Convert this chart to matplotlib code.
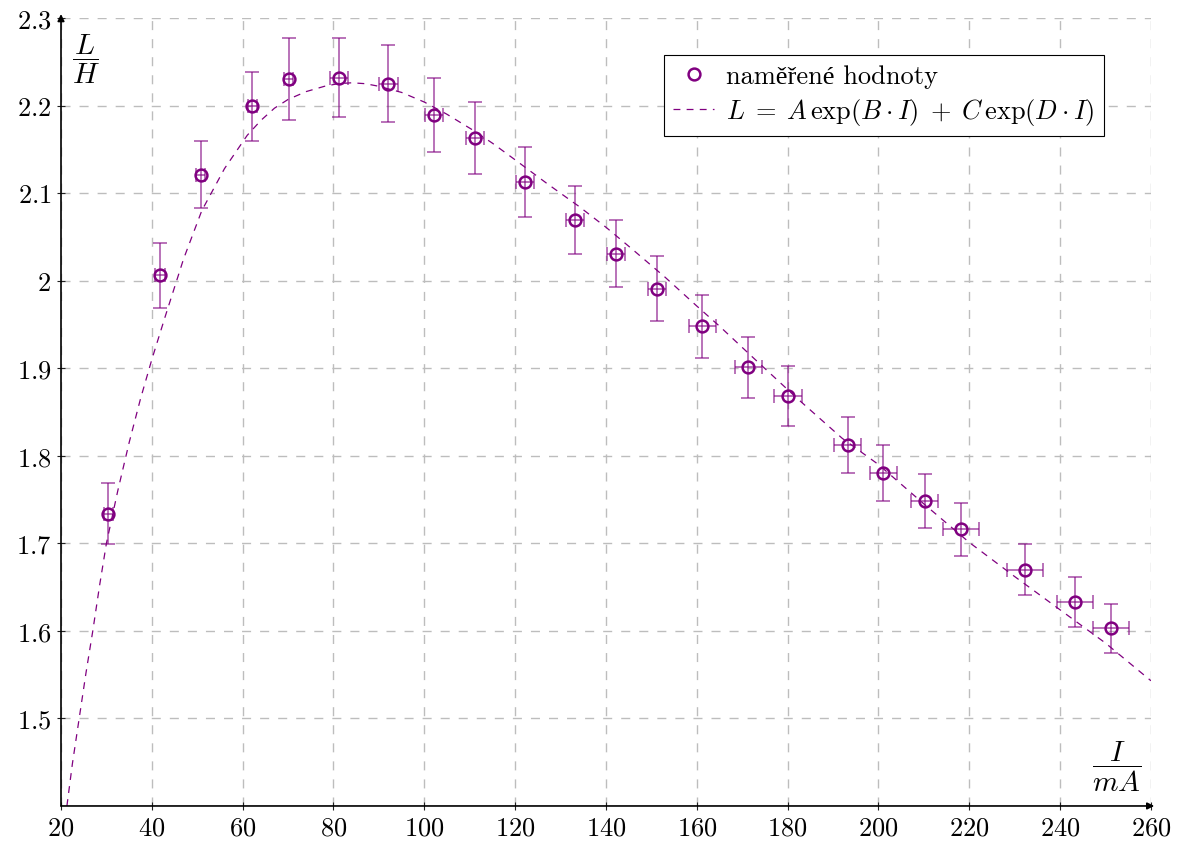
import matplotlib
matplotlib.use("Agg")
import matplotlib.pyplot as plt

plt.rcParams['mathtext.fontset'] = 'cm'
plt.rcParams['font.family'] = ['cmr10', 'Liberation Serif']
plt.rcParams['axes.formatter.use_mathtext'] = True

# measured points
current = [30.4, 41.8, 50.8, 62.1, 70.1, 81.2, 92.1, 102.2, 111.2, 122.2, 133.1, 142.2,
           151.2, 161.2, 171.3, 180.1, 193.2, 201.1, 210.2, 218.2, 232.2, 243.2, 251.2]
inductance = [1.734, 2.006, 2.121, 2.199, 2.230, 2.232, 2.225, 2.189, 2.163, 2.113, 2.069, 2.031,
              1.991, 1.948, 1.901, 1.868, 1.812, 1.780, 1.748, 1.716, 1.670, 1.633, 1.603]
current_err = [1, 1, 1, 1, 1, 2, 2, 2, 2, 2, 2, 2,
               2, 3, 3, 3, 3, 3, 3, 4, 4, 4, 4]
inductance_err = [0.035, 0.037, 0.038, 0.039, 0.047, 0.045, 0.044, 0.042, 0.041, 0.040, 0.039, 0.038,
                  0.037, 0.036, 0.035, 0.034, 0.032, 0.032, 0.031, 0.030, 0.029, 0.029, 0.028]

# fitted curve
fit_i = [21.3, 22.5, 24, 25.5, 27, 28.5, 30, 32.5, 35, 37.5, 40, 43, 47, 51, 56, 61, 64, 67,
         70, 74, 78, 81, 84, 87, 90, 95, 100, 105, 111, 115, 120, 127, 134, 140, 146, 153,
         160, 165, 172, 182, 192, 200, 210, 220, 230, 240, 250, 260]
fit_l = [1.400, 1.448, 1.500, 1.552, 1.600, 1.652, 1.700, 1.760, 1.815, 1.865, 1.910, 1.960,
         2.025, 2.080, 2.128, 2.166, 2.183, 2.197, 2.207, 2.216, 2.222, 2.225, 2.226, 2.225,
         2.222, 2.215, 2.204, 2.190, 2.171, 2.157, 2.138, 2.111, 2.085, 2.061, 2.035, 2.004,
         1.971, 1.948, 1.914, 1.866, 1.820, 1.790, 1.745, 1.701, 1.662, 1.624, 1.586, 1.543]

x_ticks = [20, 40, 60, 80, 100, 120, 140, 160, 180, 200, 220, 240, 260]
y_ticks = [1.5, 1.6, 1.7, 1.8, 1.9, 2.0, 2.1, 2.2, 2.3]
y_labels = ["1.5", "1.6", "1.7", "1.8", "1.9", "2", "2.1", "2.2", "2.3"]

purple = "#800080"

fig = plt.figure(figsize=(11.8, 8.45), dpi=100)
ax = fig.add_axes([0.0517, 0.045, 0.9237, 0.9325])

ax.plot(fit_i, fit_l, color=purple, lw=0.9, dashes=(5.5, 5),
        label=r"$L\;=\;A\,\exp(B\cdot I)\;+\;C\,\exp(D\cdot I)$", zorder=3)
ax.errorbar(current, inductance, xerr=current_err, yerr=inductance_err, fmt="none",
            ecolor=purple, elinewidth=1.1, capsize=5, capthick=1.1, alpha=0.7, zorder=4)
ax.plot(current, inductance, "o", ms=8.5, mfc="none", mec=purple, mew=1.8,
        label="naměřené hodnoty", zorder=5, ls="none")

ax.set_xlim(20, 260)
ax.set_ylim(1.4, 2.3)
ax.set_xticks(x_ticks)
ax.set_xticklabels([f"${t}$" for t in x_ticks])
ax.set_yticks(y_ticks)
ax.set_yticklabels([f"${t}$" for t in y_labels])
ax.tick_params(direction="inout", length=6, width=0.8, labelsize=19, pad=4, colors="#222222")
ax.tick_params(axis="both", labelcolor="black")

ax.grid(True, color="#bdbdbd", lw=1.0, dashes=(6.5, 6.5))
ax.set_axisbelow(True)
for s in ax.spines.values():
    s.set_visible(False)

# axis arrows
ax.annotate("", xy=(0, 1.005), xytext=(0, 0), xycoords="axes fraction",
            arrowprops=dict(arrowstyle="-|>", color="black", lw=1.2, mutation_scale=10,
                            shrinkA=0, shrinkB=0))
ax.annotate("", xy=(1.003, 0), xytext=(0, 0), xycoords="axes fraction",
            arrowprops=dict(arrowstyle="-|>", color="black", lw=1.2, mutation_scale=10,
                            shrinkA=0, shrinkB=0))

ax.text(0.0225, 0.949, r"$\dfrac{L}{H}$", transform=ax.transAxes, fontsize=21,
        ha="center", va="center")
ax.text(0.969, 0.051, r"$\dfrac{I}{mA}$", transform=ax.transAxes, fontsize=21,
        ha="center", va="center")

handles, labels = ax.get_legend_handles_labels()
leg = ax.legend(handles[::-1], labels[::-1], loc="upper right",
                bbox_to_anchor=(0.957, 0.953), fontsize=19, fancybox=False,
                edgecolor="black", framealpha=1, borderpad=0.35, handlelength=1.55,
                handletextpad=0.45, labelspacing=0.3, borderaxespad=0)
leg.get_frame().set_linewidth(0.8)

fig.savefig("out.png", dpi=100)
